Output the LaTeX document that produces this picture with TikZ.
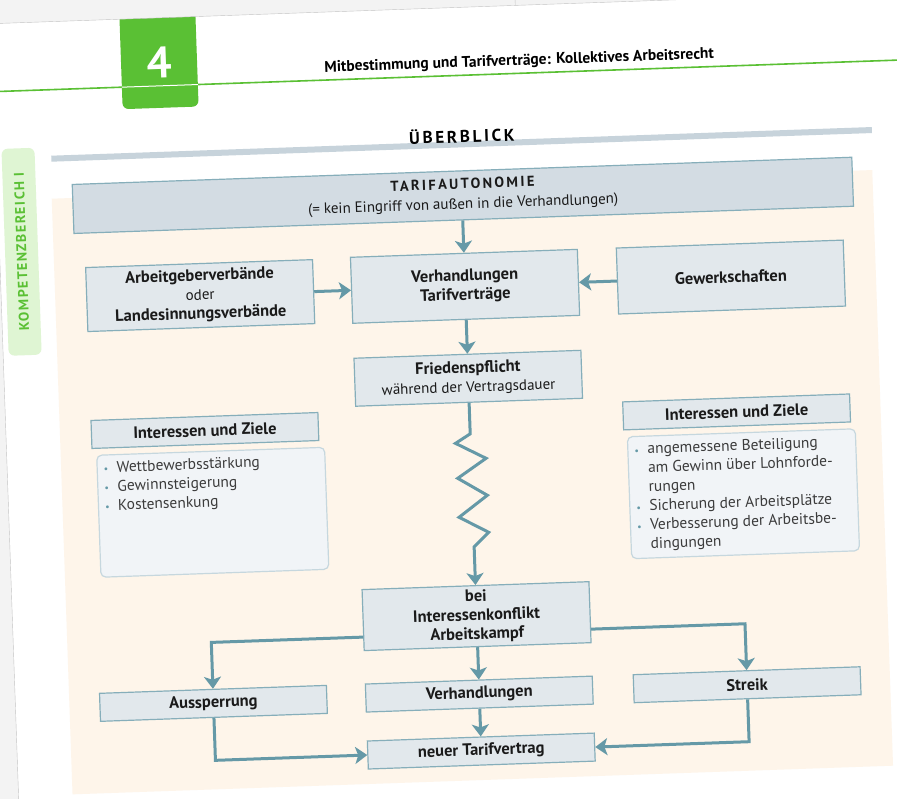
\documentclass[tikz,border=0pt]{standalone}
\usepackage{fontspec}
\setmainfont{PT Sans}
\usetikzlibrary{arrows.meta,positioning}

\definecolor{gruen}{HTML}{5AC034}
\definecolor{hellgruen}{HTML}{DFF5D3}
\definecolor{pfirsich}{HTML}{FEF5EA}
\definecolor{balken}{HTML}{C7D3DB}
\definecolor{tarifgrau}{HTML}{D3DCE3}
\definecolor{kastengrau}{HTML}{E2E8EC}
\definecolor{rahmen}{HTML}{86AEBA}
\definecolor{listgrau}{HTML}{F1F4F7}
\definecolor{listrahmen}{HTML}{C6D7DE}
\definecolor{pfeilfarbe}{HTML}{6599A7}
\definecolor{seite}{HTML}{F3F3F3}
\definecolor{kante}{HTML}{C4C4C4}
\definecolor{schrift}{HTML}{1A1A1A}

\newcommand{\punkt}{\makebox[13pt][l]{\textcolor{pfeilfarbe}{\fontsize{10}{10}\selectfont\textbullet}}}
\newcommand{\weiter}{\hspace*{13pt}}
\newcommand{\gesperrt}[1]{{\addfontfeature{LetterSpace=16}#1}}

\begin{document}
\begin{tikzpicture}[x=1pt,y=-1pt,
    kasten/.style={draw=rahmen,line width=1.2pt,fill=kastengrau,inner sep=2pt,text=schrift,
      minimum width=227pt,align=center,font=\fontsize{16.5}{19}\selectfont\bfseries},
    zeile/.style={kasten,minimum height=28pt},
    liste/.style={draw=listrahmen,line width=1.2pt,fill=listgrau,rounded corners=5pt,
      minimum width=228pt,minimum height=122pt},
    listtext/.style={inner sep=0pt,align=left,text=schrift!85,font=\fontsize{15.5}{19}\selectfont},
    pfeil/.style={draw=pfeilfarbe,line width=3pt,-{Stealth[length=12pt,width=17pt,inset=3pt]}}]
  \useasboundingbox (0,0) rectangle (897,799);
  \fill[white] (0,0) rectangle (897,799);
  \clip (0,0) rectangle (897,799);
  \begin{scope}[rotate around={2:(448,400)},transform shape]
    \fill[gruen,rounded corners=6pt] (133,-30) -- (133,98) -- (209,98) -- (209,-30) -- cycle;
    \fill[seite] (-60,-60) rectangle (960,8);
    \fill[seite] (-60,8) rectangle (5,860);
    \draw[kante] (5,860) -- (5,8) -- (960,8);
    \draw[kante] (529,-60) -- (529,8);

    \draw[gruen,line width=1.6pt] (-20,76) -- (133,76);
    \draw[gruen,line width=1.6pt] (209,76) -- (920,76);
    \draw[white,line width=1pt] (133,76) -- (209,76);
    \node (nr) at (171,53) [text=white,font=\fontsize{44}{44}\selectfont\bfseries] {4};
    \node (titel) at (531,64) [font=\fontsize{15.5}{17}\selectfont\bfseries]
      {Mitbestimmung und Tarifverträge: Kollektives Arbeitsrecht};

    \node (kb) at (27,237) [fill=hellgruen,rounded corners=6pt,rotate=90,minimum width=207pt,
      minimum height=33pt,text=gruen,font=\fontsize{14}{16}\selectfont\bfseries]
      {\addfontfeature{LetterSpace=10}KOMPETENZBEREICH I};

    \fill[balken] (60,142) rectangle (881,148);
    \node (ueber) at (471,136) [font=\fontsize{17}{20}\selectfont\bfseries] {\gesperrt{ÜBERBLICK}};
    \fill[pfirsich] (59,185) rectangle (880,781);

    \node (tarif) at (470,196) [kasten,fill=tarifgrau,minimum width=780pt,minimum height=49pt,
      font=\fontsize{14.5}{20}\selectfont\bfseries]
      {\gesperrt{TARIFAUTONOMIE}\\\mdseries\fontsize{15}{20}\selectfont(= kein Eingriff von außen in die Verhandlungen)};
    \node (ag) at (204,287) [kasten,minimum height=64pt]
      {Arbeitgeberverbände\\{\mdseries\fontsize{15}{19}\selectfont oder}\\Landesinnungsverbände};
    \node (verh) at (469,287) [kasten,minimum height=66pt] {Verhandlungen\\Tarifverträge};
    \node (gew) at (735,287) [kasten,minimum height=66pt] {Gewerkschaften};
    \node (fried) at (469,379) [kasten,minimum height=48pt]
      {Friedenspflicht\\\mdseries\fontsize{15}{19}\selectfont während der Vertragsdauer};

    \node (ziela) at (204,422) [zeile] {Interessen und Ziele};
    \node (zielb) at (736,422) [zeile] {Interessen und Ziele};
    \node (listea) at (209,504) [liste] {};
    \node (listeb) at (740,504) [liste] {};
    \node (texta) [listtext,below right=7pt and 7pt of listea.north west]
      {\punkt Wettbewerbsstärkung\\
       \punkt Gewinnsteigerung\\
       \punkt Kostensenkung};
    \node (textb) [listtext,below right=7pt and 7pt of listeb.north west]
      {\punkt angemessene Beteiligung\\
       \weiter am Gewinn über Lohnforde-\\
       \weiter rungen\\
       \punkt Sicherung der Arbeitsplätze\\
       \punkt Verbesserung der Arbeitsbe-\\
       \weiter dingungen};

    \node (konf) at (469,617) [kasten,minimum height=61pt] {bei\\Interessenkonflikt\\Arbeitskampf};
    \node (auss) at (203,695) [zeile] {Aussperrung};
    \node (verhb) at (469,695) [zeile] {Verhandlungen};
    \node (streik) at (737,695) [zeile] {Streik};
    \node (neu) at (469,752) [zeile] {neuer Tarifvertrag};

    \draw[pfeil] (tarif.south -| verh) -- (verh);
    \draw[pfeil] (ag) -- (verh);
    \draw[pfeil] (gew) -- (verh);
    \draw[pfeil] (verh) -- (fried);
    \draw[pfeil] (fried.south) -- ++(0,31) -- ++(-15,9) -- ++(30,16) -- ++(-29,19) -- ++(29,18)
      -- ++(-29,21) -- ++(29,16) -- ++(-15,14) -- (konf);
    \draw[pfeil] (konf) -- (verhb);
    \draw[pfeil] ([yshift=-17pt]konf.west) -| (auss);
    \draw[pfeil] ([yshift=-17pt]konf.east) -| (streik);
    \draw[pfeil] (verhb) -- (neu);
    \draw[pfeil] (auss) |- (neu);
    \draw[pfeil] (streik) |- (neu);
  \end{scope}
\end{tikzpicture}
\end{document}
